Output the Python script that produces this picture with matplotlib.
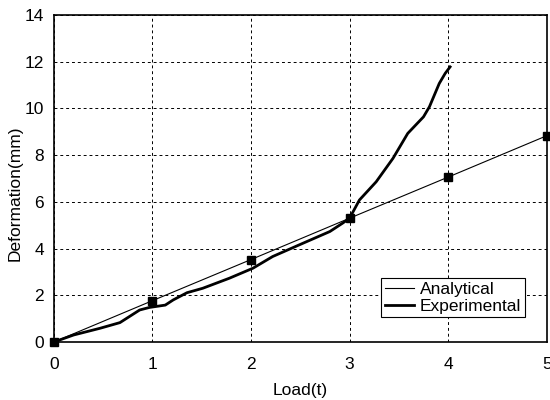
"""Load vs deformation: analytical line and experimental curve."""

import matplotlib.pyplot as plt

plt.rcParams["font.family"] = ["Liberation Sans", "DejaVu Sans"]

analytical_load = [0, 1, 2, 3, 4, 5]
analytical_def = [0, 1.77, 3.53, 5.30, 7.06, 8.83]

exp_load = [0, 0.2, 0.47, 0.67, 0.87, 0.97, 1.13, 1.21, 1.35, 1.51, 1.78, 2.02,
            2.22, 2.49, 2.80, 2.93, 3.00, 3.10, 3.27, 3.44, 3.59, 3.75, 3.81,
            3.91, 3.97, 4.02]
exp_def = [0, 0.30, 0.59, 0.83, 1.37, 1.48, 1.58, 1.80, 2.11, 2.30, 2.73, 3.16,
           3.66, 4.16, 4.73, 5.09, 5.30, 6.08, 6.86, 7.86, 8.93, 9.64, 10.07,
           11.07, 11.50, 11.78]


def main() -> None:
    fig = plt.figure(figsize=(5.5, 4), dpi=100)
    ax = fig.add_axes([0.098, 0.145, 0.896, 0.8175])

    ax.plot(analytical_load, analytical_def, color="black", lw=0.8, label="Analytical")
    ax.plot(analytical_load, analytical_def, "s", color="black", ms=6, clip_on=False, zorder=5)
    ax.plot(exp_load, exp_def, color="black", lw=2, label="Experimental")

    ax.set_xlim(0, 5)
    ax.set_ylim(0, 14)
    ax.set_xticks(range(0, 6))
    ax.set_yticks(range(0, 15, 2))
    ax.tick_params(length=0, labelsize=12.5)
    ax.tick_params(axis="x", pad=11)
    ax.tick_params(axis="y", pad=7)
    ax.grid(True, color="black", linestyle=(0, (3, 3)), linewidth=0.7)
    for spine in ax.spines.values():
        spine.set_linewidth(1.2)

    ax.set_xlabel("Load(t)", fontsize=12.5, labelpad=8)
    ax.set_ylabel("Deformation(mm)", fontsize=12.5)
    ax.yaxis.set_label_coords(-0.063, 0.455)

    leg = ax.legend(loc="lower right", bbox_to_anchor=(0.955, 0.075), fontsize=12.5,
                    fancybox=False, framealpha=1, edgecolor="black",
                    handlelength=1.7, handletextpad=0.3, borderpad=0.2,
                    labelspacing=0.1, borderaxespad=0)
    leg.get_frame().set_linewidth(0.8)

    fig.savefig("out.png", dpi=100)


if __name__ == "__main__":
    main()
